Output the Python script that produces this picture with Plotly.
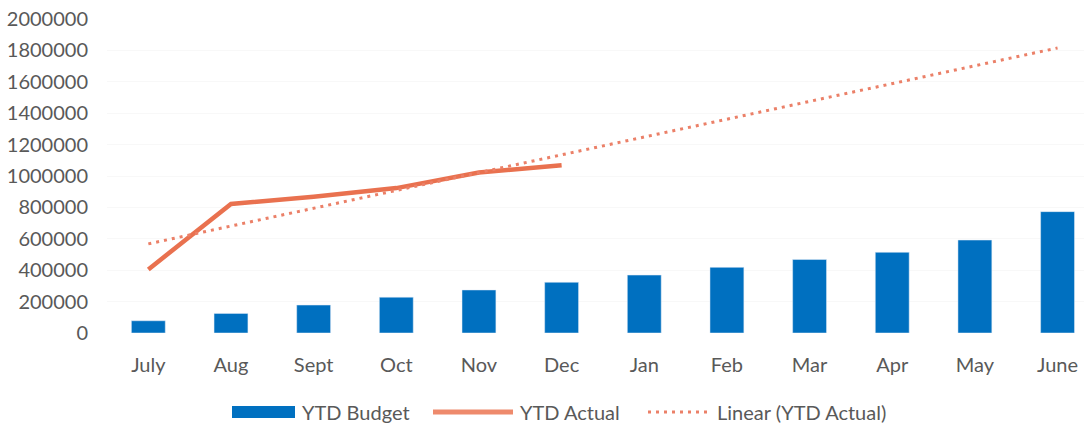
import numpy as np
import plotly.graph_objects as go

months = ["July", "Aug", "Sept", "Oct", "Nov", "Dec", "Jan", "Feb", "Mar", "Apr", "May", "June"]
ytd_budget = [78000, 125000, 178000, 228000, 274000, 323000, 369000, 418000, 468000, 514000, 592000, 773000]
ytd_actual = [405000, 822000, 868000, 923000, 1022000, 1068000]
y_ticks = list(range(0, 2000001, 200000))

BLUE = "#0070C0"
ORANGE = "#E9714F"
TREND = "#EB8068"
TEXT = "#595959"
FONT = "Lato"

# Least-squares trend of the actual series, extended over the whole year
xi = np.arange(len(ytd_actual))
slope, intercept = np.polyfit(xi, ytd_actual, 1)
trend = [intercept + slope * i for i in range(len(months))]

W, H = 1084, 428
L, R, T, B = 107, 0, 19, 95

fig = go.Figure()
fig.add_trace(go.Bar(x=months, y=ytd_budget, name="YTD Budget", marker_color=BLUE, width=0.41))
fig.add_trace(go.Scatter(x=months[:len(ytd_actual)], y=ytd_actual, name="YTD Actual", mode="lines",
                         line=dict(color=ORANGE, width=4.5)))
fig.add_trace(go.Scatter(x=months, y=trend, name="Linear (YTD Actual)", mode="lines",
                         line=dict(color=TREND, width=3, dash="3px,5px")))

fig.update_layout(
    width=W, height=H,
    margin=dict(l=L, r=R, t=T, b=B),
    plot_bgcolor="white", paper_bgcolor="white",
    showlegend=False,
    font=dict(family=FONT, size=20, color=TEXT),
)
fig.update_xaxes(range=[-0.5, 11.32], showgrid=False, showline=False, ticks="",
                 tickfont=dict(family=FONT, size=20, color=TEXT), ticklabelstandoff=18)
fig.update_yaxes(range=[0, 2000000], tickvals=y_ticks, ticktext=[str(v) for v in y_ticks],
                 showgrid=True, gridcolor="#F8F8F8", zeroline=False, showline=False,
                 tickfont=dict(family=FONT, size=20, color=TEXT), ticklabelstandoff=18)

# Legend row drawn below the axis
pw, ph = W - L - R, H - T - B
px = lambda x: (x - L) / pw
py = lambda y: (H - B - y) / ph
ly = 412

fig.add_shape(type="rect", xref="paper", yref="paper", x0=px(232), x1=px(295),
              y0=py(ly + 6), y1=py(ly - 6), fillcolor=BLUE, line_width=0)
fig.add_shape(type="line", xref="paper", yref="paper", x0=px(433), x1=px(513),
              y0=py(ly), y1=py(ly), line=dict(color="#EE8A6C", width=5))
fig.add_shape(type="line", xref="paper", yref="paper", x0=px(648), x1=px(710),
              y0=py(ly), y1=py(ly), line=dict(color=TREND, width=3, dash="3px,5px"))
for x0, label in [(300, "YTD Budget"), (518, "YTD Actual"), (715, "Linear (YTD Actual)")]:
    fig.add_annotation(xref="paper", yref="paper", x=px(x0), y=py(ly), text=label,
                       showarrow=False, xanchor="left", yanchor="middle",
                       font=dict(family=FONT, size=20, color=TEXT))

fig.write_html("out.html")
